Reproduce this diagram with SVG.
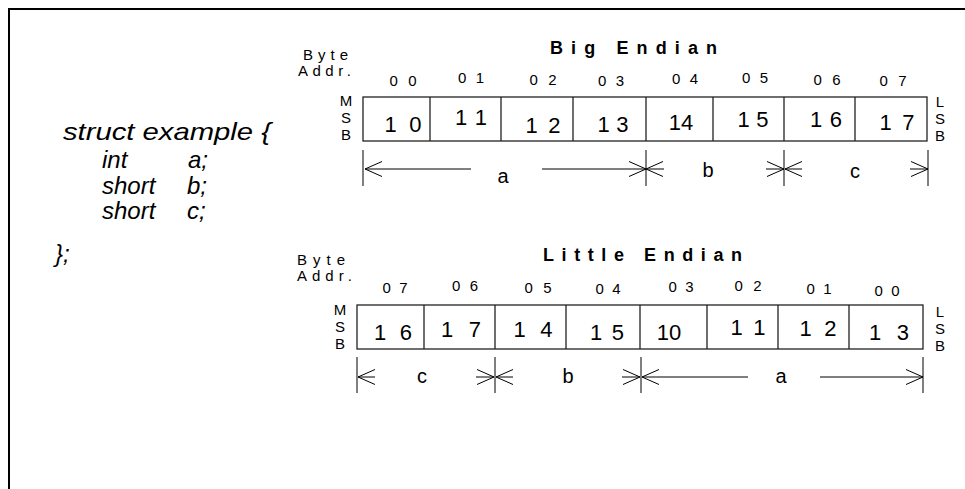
<svg xmlns="http://www.w3.org/2000/svg" width="965" height="489" viewBox="0 0 965 489">
<defs>
<marker id="chev" markerUnits="userSpaceOnUse" markerWidth="20" markerHeight="18" viewBox="-18 -9 20 18" refX="0" refY="0" orient="auto">
<path d="M-17,-7.5 L0,0 L-17,7.5" fill="none" stroke="#000" stroke-width="1"/>
</marker>
</defs>
<style>
text{font-family:"Liberation Sans",Arial,sans-serif;fill:#000}
.code{font-size:24px;font-style:italic}
.title{font-size:18px;font-weight:bold}
.lbl{font-size:15px}
.addr{font-size:15px;text-anchor:middle}
.val{font-size:22px;text-anchor:middle}
.sb{font-size:15px;text-anchor:middle}
.dim{font-size:20px;text-anchor:middle}
.box{fill:#fff;stroke:#222;stroke-width:1.3}
.div{stroke:#222;stroke-width:1.3}
.tick{stroke:#000;stroke-width:1}
.arr{stroke:#000;stroke-width:1;fill:none;marker-end:url(#chev)}
.frame{stroke:#000;stroke-width:2;fill:none}
</style>
<rect width="965" height="489" fill="#fff"/>
<path class="frame" d="M9,489 L9,9 L965,9"/>

<g id="struct">
<text class="code" x="63" y="140" textLength="208" lengthAdjust="spacingAndGlyphs">struct example {</text>
<text class="code" y="168"><tspan x="102">int</tspan><tspan x="188">a;</tspan></text>
<text class="code" y="194"><tspan x="102">short</tspan><tspan x="187">b;</tspan></text>
<text class="code" y="219"><tspan x="102">short</tspan><tspan x="187">c;</tspan></text>
<text class="code" x="55" y="262">};</text>
</g>

<g id="big-endian">
<text class="title" x="550" y="54" textLength="167" lengthAdjust="spacing">Big Endian</text>
<text class="lbl" x="303" y="60" textLength="45" lengthAdjust="spacing">Byte</text>
<text class="lbl" x="298" y="76" textLength="53" lengthAdjust="spacing">Addr.</text>
<text class="sb"><tspan x="346" y="106">M</tspan><tspan x="346" y="123">S</tspan><tspan x="346" y="140">B</tspan></text>
<text class="sb"><tspan x="940" y="107">L</tspan><tspan x="940" y="124">S</tspan><tspan x="940" y="141">B</tspan></text>
<g id="big-addr">
<text class="addr" x="403" y="86" textLength="27">0 0</text>
<text class="addr" x="471" y="83" textLength="26">0 1</text>
<text class="addr" x="543" y="85" textLength="27">0 2</text>
<text class="addr" x="611" y="86" textLength="26">0 3</text>
<text class="addr" x="685" y="84" textLength="26">0 4</text>
<text class="addr" x="755" y="83" textLength="26">0 5</text>
<text class="addr" x="827" y="85" textLength="27">0 6</text>
<text class="addr" x="893" y="86" textLength="27">0 7</text>
</g>
<rect class="box" x="363" y="97" width="564" height="44"/>
<path class="div" d="M430,97V141M501,97V141M573,97V141M646,97V141M713,97V141M784,97V141M855,97V141"/>
<g id="big-vals">
<text class="val" x="403" y="132" textLength="37">1 0</text>
<text class="val" x="471" y="125" textLength="32">1 1</text>
<text class="val" x="543" y="133" textLength="35">1 2</text>
<text class="val" x="613" y="132" textLength="31">1 3</text>
<text class="val" x="681" y="130">14</text>
<text class="val" x="753" y="127" textLength="31">1 5</text>
<text class="val" x="826" y="127" textLength="32">1 6</text>
<text class="val" x="897" y="130" textLength="35">1 7</text>
</g>
</g>

<g id="little-endian">
<text class="title" x="543" y="261" textLength="199" lengthAdjust="spacing">Little Endian</text>
<text class="lbl" x="297" y="265" textLength="48" lengthAdjust="spacing">Byte</text>
<text class="lbl" x="297" y="281" textLength="55" lengthAdjust="spacing">Addr.</text>
<text class="sb"><tspan x="340" y="315">M</tspan><tspan x="340" y="332">S</tspan><tspan x="340" y="349">B</tspan></text>
<text class="sb"><tspan x="940" y="317">L</tspan><tspan x="940" y="334">S</tspan><tspan x="940" y="351">B</tspan></text>
<g id="little-addr">
<text class="addr" x="395" y="293" textLength="25">0 7</text>
<text class="addr" x="465" y="291" textLength="26">0 6</text>
<text class="addr" x="538" y="293" textLength="27">0 5</text>
<text class="addr" x="608" y="294" textLength="25">0 4</text>
<text class="addr" x="681" y="292" textLength="25">0 3</text>
<text class="addr" x="748" y="291" textLength="27">0 2</text>
<text class="addr" x="819" y="294" textLength="25">0 1</text>
<text class="addr" x="887" y="296" textLength="25">0 0</text>
</g>
<rect class="box" x="357" y="305" width="566" height="44"/>
<path class="div" d="M424,305V349M495,305V349M566,305V349M640,305V349M707,305V349M778,305V349M849,305V349"/>
<g id="little-vals">
<text class="val" x="393" y="340" textLength="38">1 6</text>
<text class="val" x="461" y="337" textLength="40">1 7</text>
<text class="val" x="533" y="337" textLength="39">1 4</text>
<text class="val" x="607" y="340" textLength="34">1 5</text>
<text class="val" x="669" y="340">10</text>
<text class="val" x="748" y="335" textLength="35">1 1</text>
<text class="val" x="818" y="336" textLength="37">1 2</text>
<text class="val" x="889" y="340" textLength="40">1 3</text>
</g>
</g>

<g id="connectors">
<path class="tick" d="M363,150V186M646,150V186M784,150V186M928,150V186"/>
<line class="arr" x1="471" y1="169" x2="365" y2="169"/>
<line class="arr" x1="542" y1="169" x2="646" y2="169"/>
<line class="arr" x1="664" y1="169" x2="646" y2="169"/>
<line class="arr" x1="766" y1="169" x2="784" y2="169"/>
<line class="arr" x1="802" y1="169" x2="785" y2="169"/>
<line class="arr" x1="910" y1="169" x2="928" y2="169"/>
<path class="tick" d="M357,357V393M495,357V393M641,357V393M923,357V393"/>
<line class="arr" x1="375" y1="377" x2="358" y2="377"/>
<line class="arr" x1="476" y1="377" x2="494" y2="377"/>
<line class="arr" x1="513" y1="377" x2="496" y2="377"/>
<line class="arr" x1="622" y1="377" x2="640" y2="377"/>
<line class="arr" x1="748" y1="377" x2="642" y2="377"/>
<line class="arr" x1="820" y1="377" x2="923" y2="377"/>
</g>
<g id="dim-labels">
<text class="dim" x="503" y="183">a</text>
<text class="dim" x="708" y="177">b</text>
<text class="dim" x="855" y="178">c</text>
<text class="dim" x="422" y="383">c</text>
<text class="dim" x="568" y="383">b</text>
<text class="dim" x="781" y="383">a</text>
</g>
</svg>
